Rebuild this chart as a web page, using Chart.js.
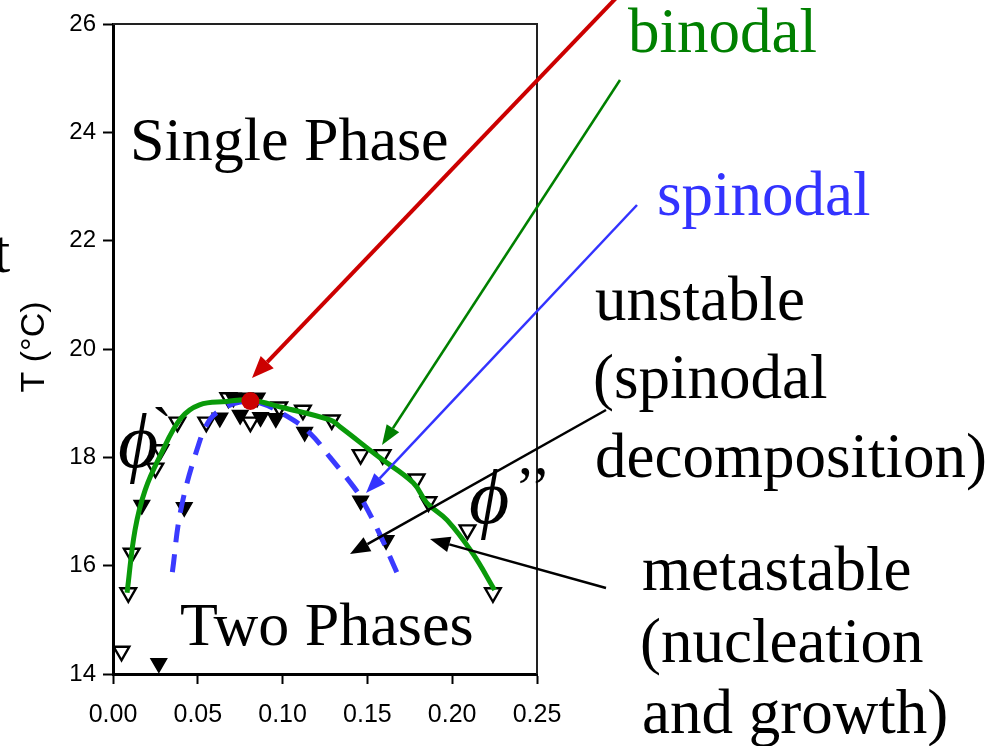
<!DOCTYPE html>
<html>
<head>
<meta charset="utf-8">
<script src="https://cdn.jsdelivr.net/npm/chart.js@4.4.1/dist/chart.umd.min.js"></script>
<style>
  html, body { margin: 0; padding: 0; background: #fff; }
  canvas { display: block; }
</style>
</head>
<body>
<canvas id="phaseChart" width="1005" height="746"></canvas>
<script>
// tick labels
const xTicks = [0, 0.05, 0.10, 0.15, 0.20, 0.25];
const yTicks = [14, 16, 18, 20, 22, 24, 26];

// cloud points (open triangles)
const openX = [0.005, 0.009, 0.011, 0.025, 0.028, 0.038, 0.055, 0.068, 0.081, 0.098, 0.112, 0.129, 0.146, 0.159, 0.179, 0.186, 0.209, 0.224];
const openT = [14.42, 15.50, 16.23, 17.80, 18.14, 18.65, 18.65, 19.10, 18.65, 18.93, 18.87, 18.69, 18.05, 18.05, 17.60, 17.18, 16.66, 15.50];

// spinodal points (filled triangles)
const fillX = [0.017, 0.027, 0.042, 0.063, 0.071, 0.075, 0.078, 0.085, 0.087, 0.096, 0.113, 0.146, 0.161];
const fillT = [17.12, 14.20, 17.08, 18.73, 19.10, 18.78, 19.10, 19.10, 18.74, 18.72, 18.47, 17.20, 16.47];

// binodal curve
const binX = [0.0083, 0.013, 0.019, 0.028, 0.040, 0.051, 0.067, 0.081, 0.100, 0.128, 0.134, 0.157, 0.177, 0.185, 0.197, 0.212, 0.225];
const binT = [15.50, 16.66, 17.40, 18.04, 18.72, 18.97, 19.03, 19.06, 18.92, 18.69, 18.56, 18.00, 17.53, 17.16, 16.84, 16.23, 15.55];

// spinodal curve
const spiX = [0.035, 0.040, 0.050, 0.057, 0.065, 0.075, 0.087, 0.103, 0.116, 0.128, 0.142, 0.147, 0.157, 0.168];
const spiT = [15.88, 17.03, 18.19, 18.69, 18.90, 19.02, 19.00, 18.75, 18.45, 18.00, 17.45, 17.21, 16.60, 15.83];

// critical point
const critX = [0.081];
const critT = [19.04];

const pts = (xs, ys) => xs.map((x, i) => ({ x: x, y: ys[i] }));

function arrow(ctx, x1, y1, x2, y2, color, lw, hl, hw) {
  const a = Math.atan2(y2 - y1, x2 - x1);
  const bx = x2 - Math.cos(a) * hl, by = y2 - Math.sin(a) * hl;
  ctx.save();
  ctx.strokeStyle = color;
  ctx.fillStyle = color;
  ctx.lineWidth = lw;
  ctx.beginPath();
  ctx.moveTo(x1, y1);
  ctx.lineTo(bx, by);
  ctx.stroke();
  ctx.beginPath();
  ctx.moveTo(x2, y2);
  ctx.lineTo(bx + Math.sin(a) * hw / 2, by - Math.cos(a) * hw / 2);
  ctx.lineTo(bx - Math.sin(a) * hw / 2, by + Math.cos(a) * hw / 2);
  ctx.closePath();
  ctx.fill();
  ctx.restore();
}

const overlay = {
  id: "overlay",
  beforeDraw(chart) {
    const c = chart.ctx;
    c.save();
    c.fillStyle = "#fff";
    c.fillRect(0, 0, chart.width, chart.height);
    c.restore();
  },
  afterDraw(chart) {
    const c = chart.ctx;
    const a = chart.chartArea;
    c.save();
    // top / right frame
    c.strokeStyle = "#222";
    c.lineWidth = 2;
    c.beginPath();
    c.moveTo(a.left, a.top);
    c.lineTo(a.right, a.top);
    c.lineTo(a.right, a.bottom);
    c.stroke();

    // y axis title
    c.save();
    c.translate(35, 347);
    c.rotate(-Math.PI / 2);
    c.fillStyle = "#000";
    c.font = "34px 'Liberation Sans', Arial, sans-serif";
    c.textAlign = "center";
    c.textBaseline = "middle";
    c.fillText("T (°C)", 0, 0);
    c.restore();

    // arrows
    arrow(c, 618, -4, 252, 378, "#cc0000", 4, 22, 18);
    arrow(c, 620, 80, 382, 445, "#008000", 2.5, 20, 15);
    arrow(c, 637, 205, 366, 493, "#3333ff", 2.5, 20, 15);
    arrow(c, 606, 410, 350, 554, "#000", 2.5, 20, 16);
    arrow(c, 606, 588, 430, 539, "#000", 2.5, 20, 16);

    // labels
    const serif = "'Liberation Serif', 'Times New Roman', serif";
    c.textAlign = "left";
    c.textBaseline = "alphabetic";
    c.fillStyle = "#000";
    c.font = "62px " + serif;
    c.fillText("Single Phase", 130, 160);
    c.fillText("Two Phases", 180, 645);
    c.fillText("t", -7, 272);
    c.font = "63px " + serif;
    c.fillText("unstable", 595, 320);
    c.fillText("(spinodal", 593, 398);
    c.fillText("decomposition)", 595, 477);
    c.fillText("metastable", 642, 590);
    c.fillText("(nucleation", 640, 662);
    c.fillText("and growth)", 642, 733);
    c.fillStyle = "#008000";
    c.fillText("binodal", 628, 52);
    c.fillStyle = "#3333ff";
    c.fillText("spinodal", 657, 215);

    c.fillStyle = "#000";
    c.font = "italic 78px " + serif;
    c.fillText("ϕ", 118, 467);
    c.fillText("ϕ", 469, 523);
    c.font = "60px " + serif;
    c.fillText("`", 152, 448);
    c.fillText("’’", 515, 507);
    c.restore();
  }
};

const ctx = document.getElementById("phaseChart").getContext("2d");
new Chart(ctx, {
  type: "scatter",
  data: {
    datasets: [
      {
        label: "critical",
        data: pts(critX, critT),
        pointStyle: "circle",
        pointRadius: 9,
        backgroundColor: "#cc0000",
        borderColor: "#cc0000",
        borderWidth: 0,
        order: 0
      },
      {
        label: "binodal",
        data: pts(binX, binT),
        showLine: true,
        tension: 0.4,
        borderColor: "#0a9a0a",
        borderWidth: 5,
        pointRadius: 0,
        order: 1
      },
      {
        label: "spinodal",
        data: pts(spiX, spiT),
        showLine: true,
        tension: 0.4,
        borderColor: "#3a3aff",
        borderWidth: 5,
        borderDash: [18, 12],
        pointRadius: 0,
        order: 2
      },
      {
        label: "spinodal points",
        data: pts(fillX, fillT),
        pointStyle: "triangle",
        rotation: 180,
        pointRadius: 9,
        backgroundColor: "#000",
        borderColor: "#000",
        borderWidth: 1.5,
        order: 3
      },
      {
        label: "cloud points",
        data: pts(openX, openT),
        pointStyle: "triangle",
        rotation: 180,
        pointRadius: 9,
        backgroundColor: "#fff",
        borderColor: "#000",
        borderWidth: 2.4,
        order: 4
      }
    ]
  },
  options: {
    responsive: false,
    animation: false,
    devicePixelRatio: 1,
    layout: { padding: { left: 0, right: 468, top: 24, bottom: 0 } },
    plugins: { legend: { display: false }, tooltip: { enabled: false } },
    scales: {
      x: {
        type: "linear",
        min: 0,
        max: 0.25,
        afterBuildTicks: s => { s.ticks = xTicks.map(v => ({ value: v })); },
        afterFit: s => { s.height = 72; },
        grid: { drawOnChartArea: false, tickLength: 10, tickWidth: 2, color: "#000" },
        border: { color: "#000", width: 3 },
        ticks: {
          color: "#000",
          padding: 16,
          maxRotation: 0,
          font: { family: "'Liberation Sans', Arial, sans-serif", size: 25 },
          callback: v => v.toFixed(2)
        }
      },
      y: {
        type: "linear",
        min: 14,
        max: 26,
        afterBuildTicks: s => { s.ticks = yTicks.map(v => ({ value: v })); },
        afterFit: s => { s.width = 113; },
        grid: { drawOnChartArea: false, tickLength: 10, tickWidth: 2, color: "#000" },
        border: { color: "#000", width: 3 },
        ticks: {
          color: "#000",
          padding: 7,
          font: { family: "'Liberation Sans', Arial, sans-serif", size: 24 },
          callback: v => String(v)
        }
      }
    }
  },
  plugins: [overlay]
});
</script>
</body>
</html>
